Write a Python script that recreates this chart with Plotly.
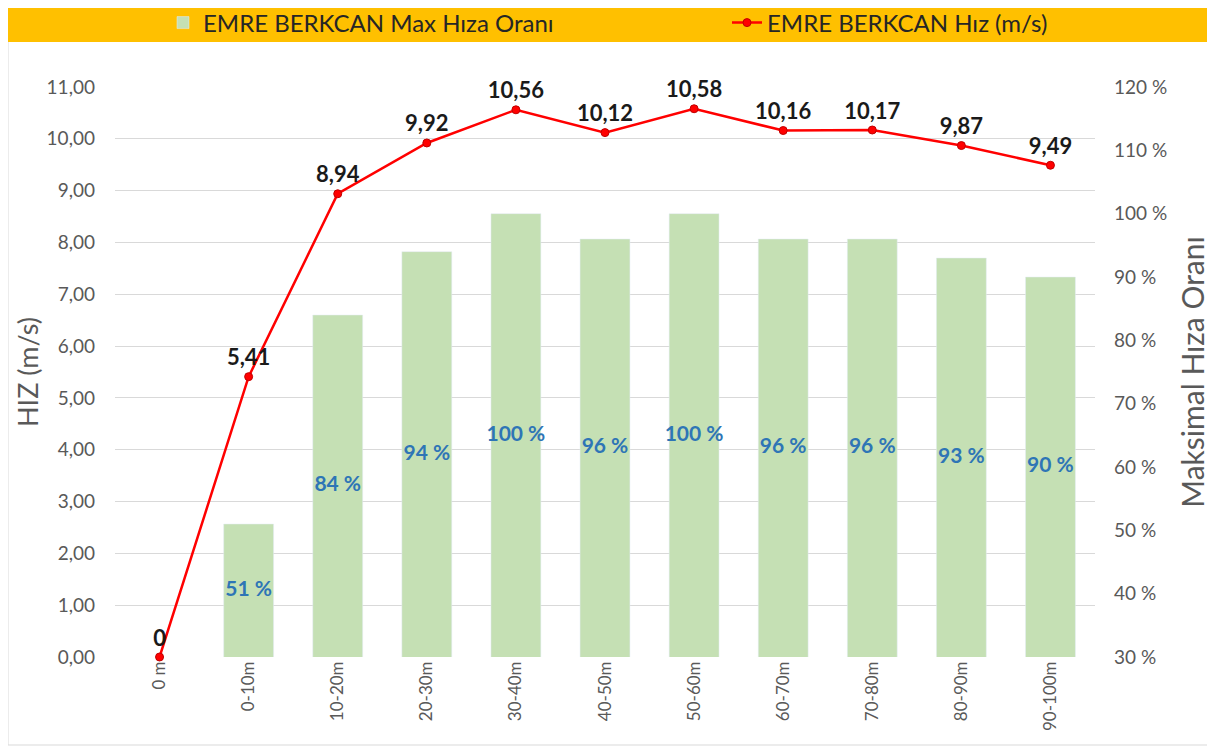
import plotly.graph_objects as go

# Kategoriler ve değerler
categories = ["0 m", "0-10m", "10-20m", "20-30m", "30-40m", "40-50m",
              "50-60m", "60-70m", "70-80m", "80-90m", "90-100m"]
speed = [0, 5.41, 8.94, 9.92, 10.56, 10.12, 10.58, 10.16, 10.17, 9.87, 9.49]
ratio = [None, 51, 84, 94, 100, 96, 100, 96, 96, 93, 90]

left_ticks = list(range(0, 12))
right_ticks = list(range(30, 121, 10))

FONT = "Lato"
GRAY = "#595959"

speed_text = ["0" if v == 0 else f"{v:.2f}".replace(".", ",") for v in speed]
ratio_text = ["" if r is None else f"{r} %" for r in ratio]
ratio_mid = [None if r is None else (right_ticks[0] + r) / 2 for r in ratio]

fig = go.Figure()

fig.add_trace(go.Bar(
    x=categories, y=ratio, yaxis="y2", name="EMRE BERKCAN Max Hıza Oranı",
    marker_color="#C5E0B4", width=0.56, legend="legend",
))
fig.add_trace(go.Scatter(
    x=categories, y=ratio_mid, yaxis="y2", mode="text", text=ratio_text,
    textfont=dict(family=FONT, size=21, color="#2E75B6", weight="bold"),
    showlegend=False, hoverinfo="skip",
))
fig.add_trace(go.Scatter(
    x=categories, y=speed, name="EMRE BERKCAN Hız (m/s)", mode="lines+markers+text",
    line=dict(color="#FF0000", width=2.5),
    marker=dict(symbol="circle", size=8, color="#FF0000", line=dict(color="#C00000", width=1)),
    text=speed_text, textposition="top center", cliponaxis=False,
    textfont=dict(family=FONT, size=22, color="#1a1a1a", weight="bold"),
    legend="legend2",
))

# page has an 8px body margin, so the figure is drawn 8px smaller and
# reference pixel positions are shifted by OFF
OFF = 8
W, H = 1215 - OFF, 748 - OFF
L, R, T, B = 115 - OFF, 1095 - OFF, 87 - OFF, 657 - OFF
pw, ph = R - L, B - T


def px_x(x):
    return (x - OFF - L) / pw


def px_y(y):
    return (B - (y - OFF)) / ph


legend_font = dict(family=FONT, size=24, color="#262626")

fig.update_layout(
    width=W, height=H,
    margin=dict(l=L, r=W - R, t=T, b=H - B, autoexpand=False),
    paper_bgcolor="white", plot_bgcolor="white",
    separators=",.",
    font=dict(family=FONT, color=GRAY),
    bargap=0.44,
    xaxis=dict(
        type="category", range=[-0.5, len(categories) - 0.5],
        tickangle=-90, showgrid=False, showline=False, ticks="",
        tickfont=dict(size=17, color=GRAY),
    ),
    yaxis=dict(
        range=[0, 11], tickvals=left_ticks, tickformat=".2f",
        showgrid=True, gridcolor="#D9D9D9", gridwidth=1, zeroline=False,
        tickfont=dict(size=19, color=GRAY), ticks="", ticklabelstandoff=19,
        title=dict(text="HIZ (m/s)", font=dict(size=27, color=GRAY), standoff=0),
    ),
    yaxis2=dict(
        range=[30, 120], tickvals=right_ticks,
        ticktext=[f"{v} %" for v in right_ticks],
        overlaying="y", side="right", showgrid=False, zeroline=False,
        tickfont=dict(size=19, color=GRAY), ticks="", ticklabelstandoff=18,
        title=dict(text="Maksimal Hıza Oranı", font=dict(size=30, color=GRAY), standoff=16),
    ),
    legend=dict(
        x=px_x(163), y=px_y(23), xanchor="left", yanchor="middle",
        orientation="h", bgcolor="rgba(0,0,0,0)", font=legend_font,
    ),
    legend2=dict(
        x=px_x(727), y=px_y(23), xanchor="left", yanchor="middle",
        orientation="h", bgcolor="rgba(0,0,0,0)", font=legend_font,
    ),
    showlegend=True,
    shapes=[
        dict(type="rect", xref="paper", yref="paper", layer="below",
             x0=px_x(OFF), x1=px_x(1212), y0=px_y(745), y1=px_y(OFF),
             line=dict(color="#D9D9D9", width=1), fillcolor="rgba(0,0,0,0)"),
        dict(type="rect", xref="paper", yref="paper", layer="below",
             x0=px_x(OFF), x1=px_x(1215), y0=px_y(42), y1=px_y(OFF),
             line=dict(width=0), fillcolor="#FFC000"),
    ],
)

fig.write_html("out.html")
